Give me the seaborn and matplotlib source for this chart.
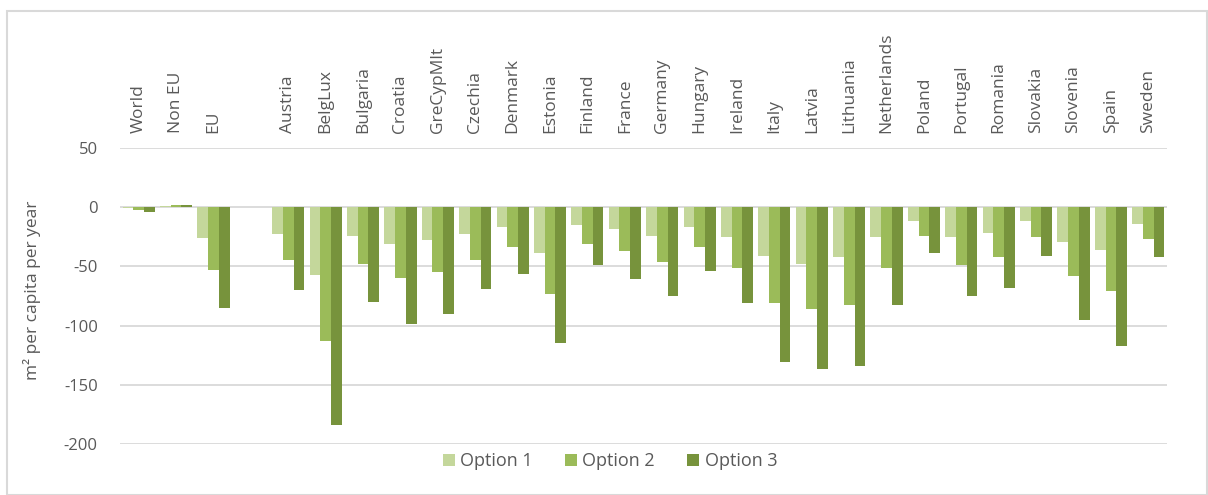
import matplotlib
matplotlib.use("Agg")
import matplotlib.pyplot as plt
import seaborn as sns
import pandas as pd
import numpy as np
from matplotlib.patches import Rectangle

categories = ["World", "Non EU", "EU", " ", "Austria", "BelgLux", "Bulgaria", "Croatia",
              "GreCypMlt", "Czechia", "Denmark", "Estonia", "Finland", "France", "Germany",
              "Hungary", "Ireland", "Italy", "Latvia", "Lithuania", "Netherlands", "Poland",
              "Portugal", "Romania", "Slovakia", "Slovenia", "Spain", "Sweden"]
option1 = [-1, 1, -26, np.nan, -23, -57, -24, -31, -28, -23, -17, -39, -15, -18, -24,
           -17, -25, -41, -48, -42, -25, -12, -25, -22, -12, -29, -36, -14]
option2 = [-2, 2, -53, np.nan, -45, -113, -48, -60, -55, -45, -34, -73, -31, -37, -46,
           -34, -51, -81, -86, -83, -51, -24, -49, -42, -25, -58, -71, -27]
option3 = [-4, 2, -85, np.nan, -70, -184, -80, -99, -90, -69, -56, -115, -49, -61, -75,
           -54, -81, -131, -137, -134, -83, -39, -75, -68, -41, -95, -117, -42]
series_names = ["Option 1", "Option 2", "Option 3"]
colors = ["#c4d79b", "#9bbb59", "#77933c"]
yticks = [50, 0, -50, -100, -150, -200]

rows = []
for name, vals in zip(series_names, [option1, option2, option3]):
    for c, v in zip(categories, vals):
        rows.append({"category": c, "series": name, "value": v})
df = pd.DataFrame(rows)

sns.set_theme(style="white")
plt.rcParams["font.family"] = ["Open Sans", "DejaVu Sans"]
text_color = "#595959"

fig = plt.figure(figsize=(12.08, 4.95), dpi=100)
ax = fig.add_axes([120 / 1208, 1 - 444 / 495, (1167 - 120) / 1208, (444 - 148) / 495])

sns.barplot(data=df, x="category", y="value", hue="series", order=categories,
            hue_order=series_names, palette=colors, width=0.86, gap=0,
            saturation=1, linewidth=0, ax=ax, errorbar=None)

ax.set_ylim(-200, 50)
ax.set_xlim(-0.5, len(categories) - 0.5)
ax.set_yticks(yticks)
ax.set_yticklabels([str(t) for t in yticks], fontsize=12, color=text_color)
ax.yaxis.grid(True, color="#d9d9d9", linewidth=1.3)
ax.set_axisbelow(True)
for s in ax.spines.values():
    s.set_visible(False)
ax.tick_params(axis="y", length=0, pad=16)

ax.xaxis.tick_top()
ax.set_xticks(range(len(categories)))
ax.set_xticklabels(categories, rotation=90, fontsize=12.5, color=text_color, va="bottom")
ax.tick_params(axis="x", length=0, pad=11)
ax.set_xlabel("")
ax.set_ylabel("")

fig.text(32 / 1208, 1 - 290 / 495, "m² per capita per year", rotation=90,
         ha="center", va="center", fontsize=12.5, color=text_color)

handles, labels = ax.get_legend_handles_labels()
ax.get_legend().remove()
fig.legend(handles, labels, loc="center", bbox_to_anchor=(610 / 1208, 1 - 461 / 495),
           ncol=3, frameon=False, fontsize=13, labelcolor=text_color,
           handlelength=0.65, handleheight=0.65, handletextpad=0.3, columnspacing=1.8)

fig.patches.append(Rectangle((7 / 1208, 0), 1200 / 1208, 1 - 11 / 495,
                             transform=fig.transFigure, fill=False,
                             edgecolor="#d9d9d9", linewidth=1.5))

fig.savefig("out.png", dpi=100, facecolor="white")
